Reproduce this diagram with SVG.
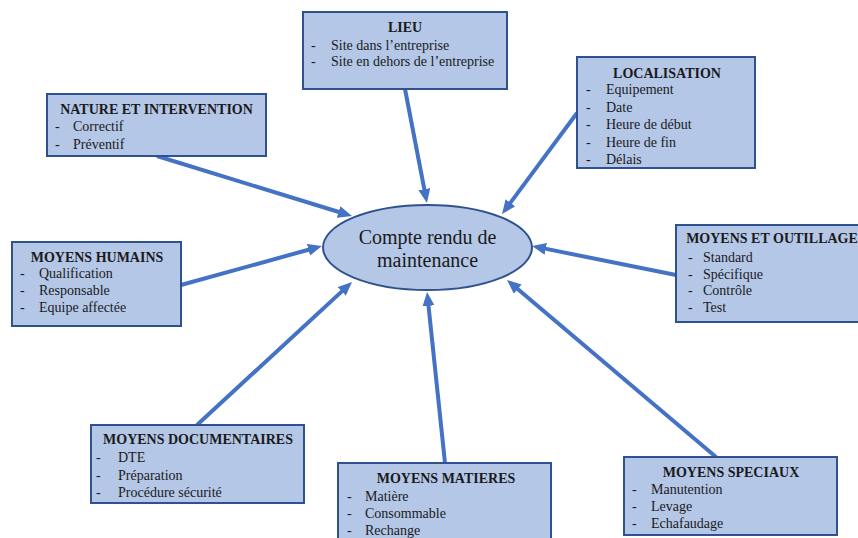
<svg xmlns="http://www.w3.org/2000/svg" width="858" height="538" viewBox="0 0 858 538">
<defs>
<style>
.box{fill:#B4C7E7;stroke:#2F528F;stroke-width:2}
.t{font-family:'Liberation Serif','Times New Roman',Times,serif;font-size:14px;fill:#1a1a1a}
.h{font-weight:bold;text-anchor:middle}
.c{font-family:'Liberation Serif','Times New Roman',Times,serif;font-size:20px;fill:#1a1a1a;text-anchor:middle}
.ar{stroke:#4472C4;stroke-width:4;fill:none;marker-end:url(#ah)}
</style>
<marker id="ah" markerUnits="userSpaceOnUse" markerWidth="14" markerHeight="12" refX="2" refY="6" orient="auto">
<path d="M0,0 L14,6 L0,12 z" fill="#4472C4"/>
</marker>
</defs>
<rect width="858" height="538" fill="#ffffff"/>

<g id="connectors">
<line class="ar" x1="405" y1="89" x2="424.7" y2="191.2"/>
<line class="ar" x1="577" y1="113" x2="509.2" y2="204.4"/>
<line class="ar" x1="157" y1="156" x2="340.5" y2="212.5"/>
<line class="ar" x1="181" y1="285" x2="310.4" y2="249.2"/>
<line class="ar" x1="197" y1="425" x2="343.2" y2="290.1"/>
<line class="ar" x1="445" y1="463" x2="428.3" y2="303.9"/>
<line class="ar" x1="716" y1="457" x2="516.2" y2="287.8"/>
<line class="ar" x1="676" y1="275" x2="543.8" y2="248.4"/>
</g>

<g id="center">
<ellipse cx="427.5" cy="247.5" rx="104.5" ry="42.5" class="box"/>
<text class="c" x="427.5" y="244">Compte rendu de</text>
<text class="c" x="427.5" y="267">maintenance</text>
</g>

<g id="lieu">
<rect class="box" x="303" y="12" width="204" height="77"/>
<text class="t h" x="405" y="32">LIEU</text>
<text class="t" x="311" y="50">-</text><text class="t" x="331" y="50">Site dans l’entreprise</text>
<text class="t" x="311" y="66">-</text><text class="t" x="331" y="66">Site en dehors de l’entreprise</text>
</g>

<g id="nature">
<rect class="box" x="47" y="94" width="219" height="62"/>
<text class="t h" x="156.5" y="114">NATURE ET INTERVENTION</text>
<text class="t" x="55" y="131">-</text><text class="t" x="73" y="131">Correctif</text>
<text class="t" x="55" y="149">-</text><text class="t" x="73" y="149">Préventif</text>
</g>

<g id="localisation">
<rect class="box" x="577" y="57" width="178" height="111"/>
<text class="t h" x="667" y="78">LOCALISATION</text>
<text class="t" x="586" y="94">-</text><text class="t" x="606" y="94">Equipement</text>
<text class="t" x="586" y="111.5">-</text><text class="t" x="606" y="111.5">Date</text>
<text class="t" x="586" y="129">-</text><text class="t" x="606" y="129">Heure de début</text>
<text class="t" x="586" y="146.5">-</text><text class="t" x="606" y="146.5">Heure de fin</text>
<text class="t" x="586" y="164">-</text><text class="t" x="606" y="164">Délais</text>
</g>

<g id="humains">
<rect class="box" x="12" y="242" width="169" height="84"/>
<text class="t h" x="97" y="262">MOYENS HUMAINS</text>
<text class="t" x="20" y="278">-</text><text class="t" x="39" y="278">Qualification</text>
<text class="t" x="20" y="295">-</text><text class="t" x="39" y="295">Responsable</text>
<text class="t" x="20" y="312">-</text><text class="t" x="39" y="312">Equipe affectée</text>
</g>

<g id="outillage">
<rect class="box" x="676" y="225" width="200" height="97"/>
<text class="t h" x="772" y="243">MOYENS ET OUTILLAGE</text>
<text class="t" x="688" y="262">-</text><text class="t" x="703" y="262">Standard</text>
<text class="t" x="688" y="279">-</text><text class="t" x="703" y="279">Spécifique</text>
<text class="t" x="688" y="295">-</text><text class="t" x="703" y="295">Contrôle</text>
<text class="t" x="688" y="312">-</text><text class="t" x="703" y="312">Test</text>
</g>

<g id="documentaires">
<rect class="box" x="91" y="425" width="213" height="78"/>
<text class="t h" x="198" y="444">MOYENS DOCUMENTAIRES</text>
<text class="t" x="96" y="462">-</text><text class="t" x="118" y="462">DTE</text>
<text class="t" x="96" y="479.5">-</text><text class="t" x="118" y="479.5">Préparation</text>
<text class="t" x="96" y="497">-</text><text class="t" x="118" y="497">Procédure sécurité</text>
</g>

<g id="matieres">
<rect class="box" x="338" y="463" width="213" height="85"/>
<text class="t h" x="446" y="483">MOYENS MATIERES</text>
<text class="t" x="347" y="501">-</text><text class="t" x="365" y="501">Matière</text>
<text class="t" x="347" y="518">-</text><text class="t" x="365" y="518">Consommable</text>
<text class="t" x="347" y="535">-</text><text class="t" x="365" y="535">Rechange</text>
</g>

<g id="speciaux">
<rect class="box" x="624" y="457" width="213" height="78"/>
<text class="t h" x="731" y="477">MOYENS SPECIAUX</text>
<text class="t" x="632" y="494">-</text><text class="t" x="651" y="494">Manutention</text>
<text class="t" x="632" y="511">-</text><text class="t" x="651" y="511">Levage</text>
<text class="t" x="632" y="528">-</text><text class="t" x="651" y="528">Echafaudage</text>
</g>
</svg>
